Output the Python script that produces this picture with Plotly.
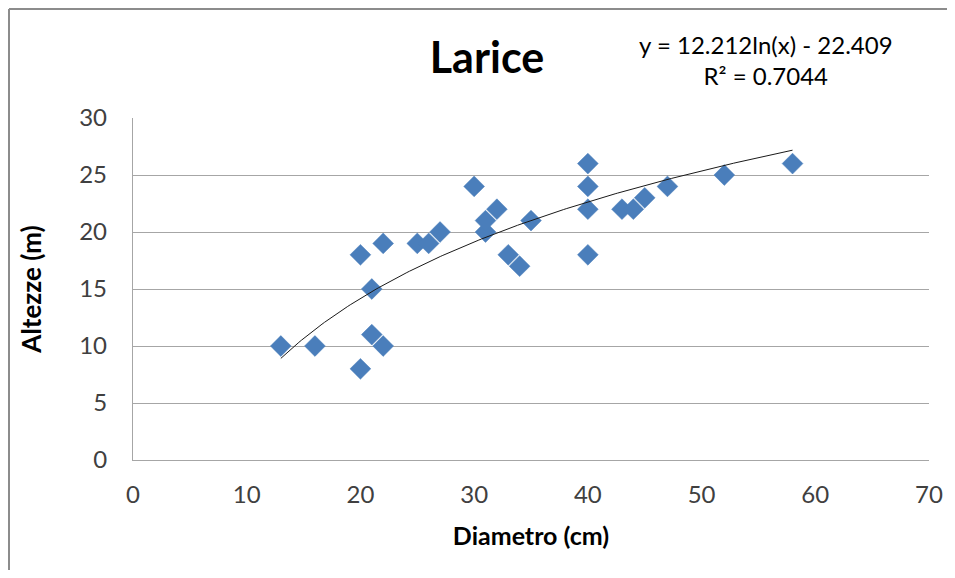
import numpy as np
import plotly.graph_objects as go

# Data
diametro = [13, 16, 20, 20, 21, 21, 22, 22, 25, 26, 27, 30, 31, 31, 32, 33, 34, 35,
            40, 40, 40, 40, 43, 44, 45, 47, 52, 58]
altezze = [10, 10, 8, 18, 15, 11, 10, 19, 19, 19, 20, 24, 20, 21, 22, 18, 17, 21,
           26, 24, 22, 18, 22, 22, 23, 24, 25, 26]

# Trendline coefficients shown on the chart
coef_a = 12.212
coef_b = -22.409
r2_text = "0.7044"

x_ticks = [0, 10, 20, 30, 40, 50, 60, 70]
y_ticks = [0, 5, 10, 15, 20, 25, 30]

FONT = "Lato"

# page body has an 8px margin; figure sized so the page does not overflow
W, H = 947, 562
OFF = 8
PL, PR, PT, PB = 133 - OFF, 929 - OFF, 118 - OFF, 460 - OFF  # plot area in figure px


def px(xp):
    return (xp - OFF - PL) / (PR - PL)


def py(yp):
    return (PB - (yp - OFF)) / (PB - PT)


xs = np.linspace(min(diametro), max(diametro), 200)
ys = coef_a * np.log(xs) + coef_b

fig = go.Figure()
fig.add_trace(go.Scatter(
    x=diametro, y=altezze, mode="markers",
    marker=dict(symbol="diamond", size=16, color="#4A7EBB",
                line=dict(width=0.5, color="#4A7EBB")),
    showlegend=False, hoverinfo="x+y"))
fig.add_trace(go.Scatter(
    x=xs, y=ys, mode="lines", line=dict(color="#1a1a1a", width=1),
    showlegend=False, hoverinfo="skip"))

fig.update_layout(
    width=W, height=H,
    margin=dict(l=PL, r=W - PR, t=PT, b=H - PB, autoexpand=False),
    paper_bgcolor="white", plot_bgcolor="white",
    font=dict(family=FONT, color="#404040"),
    title=dict(text="<b>Larice</b>", x=(487 - OFF) / W, xanchor="center",
               y=1 - (58 - OFF) / H, yanchor="middle",
               font=dict(family=FONT, size=43, color="black")),
    xaxis=dict(range=[0, 70], tickvals=x_ticks, ticktext=[str(v) for v in x_ticks],
               showgrid=False, zeroline=False, showline=True, linecolor="#A6A6A6",
               linewidth=1.3, ticks="", ticklabelstandoff=13,
               tickfont=dict(size=24, color="#404040"),
               title=dict(text="<b>Diametro (cm)</b>", standoff=20,
                          font=dict(size=25, color="black"))),
    yaxis=dict(range=[0, 30], tickvals=y_ticks, ticktext=[str(v) for v in y_ticks],
               showgrid=True, gridcolor="#A6A6A6", gridwidth=1.3, zeroline=False,
               showline=True, linecolor="#A6A6A6", linewidth=1.3, ticks="",
               ticklabelstandoff=20,
               tickfont=dict(size=24, color="#404040"),
               title=dict(text="<b>Altezze (m)</b>", standoff=30,
                          font=dict(size=26, color="black"))),
)

fig.add_annotation(
    xref="paper", yref="paper", x=px(766), y=py(60),
    text=f"y = {coef_a}ln(x) - {abs(coef_b)}<br>R² = {r2_text}",
    showarrow=False, xanchor="center", yanchor="middle", align="center",
    font=dict(family=FONT, size=24, color="black"))

# chart frame (only the left and top edges are inside the picture)
fig.add_shape(type="line", xref="paper", yref="paper",
              x0=px(9), x1=px(9), y0=py(580), y1=py(9),
              line=dict(color="#8C8C8C", width=2), layer="below")
fig.add_shape(type="line", xref="paper", yref="paper",
              x0=px(9), x1=px(960), y0=py(9), y1=py(9),
              line=dict(color="#8C8C8C", width=2), layer="below")

fig.write_html("out.html")
